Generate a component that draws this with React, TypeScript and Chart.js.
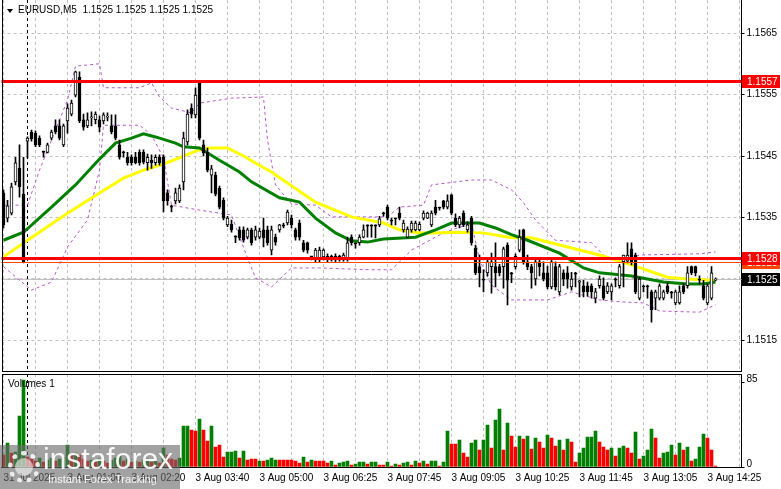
import React, { useEffect, useRef } from "react";
import { Chart, registerables } from "chart.js";

Chart.register(...registerables);

// ---------------- data ----------------
const SLOT_COUNT = 185; // visible bar slots (incl. empty right shift)
const GRID_STEP = 8;
const separatorIndex = 6;

const timeTickIndex = [0, 16, 32, 48, 64, 80, 96, 112, 128, 144, 160, 176];
const timeTickText = [
  "31 Jul 2025", "3 Aug 01:00", "3 Aug 02:20", "3 Aug 03:40", "3 Aug 05:00", "3 Aug 06:25",
  "3 Aug 07:45", "3 Aug 09:05", "3 Aug 10:25", "3 Aug 11:45", "3 Aug 13:05", "3 Aug 14:25",
];

const openPrices = [
  1.15390,1.15349,1.15357,1.15408,1.15430,1.15388,1.15474,1.15489,1.15487,1.15479,
  1.15458,1.15456,1.15479,1.15499,1.15499,1.15468,1.15507,1.15518,1.15549,1.15578,
  1.15509,1.15499,1.15512,1.15509,1.15509,1.15507,1.15513,1.15499,1.15499,1.15468,
  1.15456,1.15448,1.15448,1.15448,1.15456,1.15456,1.15439,1.15443,1.15439,1.15448,
  1.15448,1.15390,1.15369,1.15377,1.15377,1.15408,1.15473,1.15528,1.15517,1.15569,
  1.15468,1.15456,1.15419,1.15419,1.15398,1.15378,1.15338,1.15339,1.15320,1.15330,
  1.15330,1.15318,1.15330,1.15318,1.15318,1.15330,1.15330,1.15297,1.15318,1.15330,
  1.15338,1.15341,1.15349,1.15330,1.15341,1.15309,1.15309,1.15287,1.15281,1.15281,
  1.15286,1.15287,1.15287,1.15287,1.15287,1.15281,1.15281,1.15318,1.15309,1.15309,
  1.15318,1.15338,1.15338,1.15338,1.15338,1.15357,1.15367,1.15346,1.15349,1.15357,
  1.15330,1.15318,1.15330,1.15330,1.15330,1.15349,1.15349,1.15338,1.15367,1.15367,
  1.15377,1.15367,1.15387,1.15349,1.15338,1.15357,1.15330,1.15349,1.15300,1.15270,
  1.15250,1.15260,1.15270,1.15270,1.15270,1.15270,1.15305,1.15260,1.15270,1.15297,
  1.15330,1.15278,1.15270,1.15250,1.15278,1.15260,1.15260,1.15237,1.15270,1.15229,
  1.15260,1.15260,1.15237,1.15260,1.15245,1.15239,1.15239,1.15239,1.15219,1.15239,
  1.15239,1.15229,1.15229,1.15250,1.15239,1.15278,1.15279,1.15299,1.15289,1.15219,
  1.15239,1.15239,1.15229,1.15219,1.15219,1.15219,1.15239,1.15229,1.15211,1.15211,
  1.15239,1.15239,1.15270,1.15270,1.15250,1.15239,1.15211,1.15219,1.15248,
];

const highPrices = [
  1.15395,1.15378,1.15406,1.15448,1.15468,1.15448,1.15481,1.15492,1.15491,1.15483,
  1.15458,1.15471,1.15492,1.15509,1.15509,1.15502,1.15535,1.15541,1.15588,1.15587,
  1.15518,1.15520,1.15522,1.15522,1.15515,1.15520,1.15520,1.15517,1.15517,1.15476,
  1.15458,1.15456,1.15452,1.15456,1.15460,1.15460,1.15453,1.15452,1.15452,1.15452,
  1.15452,1.15395,1.15370,1.15398,1.15403,1.15489,1.15525,1.15535,1.15561,1.15570,
  1.15476,1.15463,1.15435,1.15424,1.15401,1.15382,1.15352,1.15346,1.15320,1.15335,
  1.15335,1.15333,1.15333,1.15336,1.15333,1.15349,1.15336,1.15336,1.15323,1.15339,
  1.15341,1.15362,1.15354,1.15333,1.15346,1.15313,1.15310,1.15287,1.15300,1.15302,
  1.15299,1.15291,1.15289,1.15291,1.15289,1.15292,1.15318,1.15322,1.15309,1.15322,
  1.15338,1.15338,1.15338,1.15338,1.15352,1.15359,1.15370,1.15349,1.15349,1.15367,
  1.15346,1.15335,1.15344,1.15344,1.15343,1.15361,1.15359,1.15361,1.15378,1.15367,
  1.15378,1.15387,1.15388,1.15356,1.15352,1.15361,1.15343,1.15352,1.15305,1.15289,
  1.15265,1.15284,1.15292,1.15309,1.15274,1.15302,1.15309,1.15261,1.15291,1.15330,
  1.15331,1.15289,1.15274,1.15284,1.15281,1.15278,1.15271,1.15281,1.15278,1.15274,
  1.15265,1.15270,1.15261,1.15261,1.15248,1.15248,1.15245,1.15242,1.15235,1.15255,
  1.15252,1.15244,1.15242,1.15252,1.15274,1.15289,1.15309,1.15309,1.15292,1.15253,
  1.15240,1.15240,1.15232,1.15232,1.15242,1.15232,1.15244,1.15230,1.15232,1.15239,
  1.15242,1.15270,1.15271,1.15271,1.15255,1.15248,1.15242,1.15270,1.15252,
];

const lowPrices = [
  1.15333,1.15343,1.15354,1.15403,1.15383,1.15276,1.15447,1.15474,1.15465,1.15465,
  1.15448,1.15455,1.15476,1.15486,1.15476,1.15465,1.15487,1.15515,1.15546,1.15504,
  1.15492,1.15496,1.15499,1.15502,1.15489,1.15502,1.15507,1.15486,1.15476,1.15445,
  1.15448,1.15435,1.15435,1.15437,1.15435,1.15437,1.15427,1.15430,1.15435,1.15435,
  1.15359,1.15370,1.15359,1.15372,1.15374,1.15395,1.15468,1.15512,1.15512,1.15476,
  1.15450,1.15424,1.15390,1.15385,1.15364,1.15346,1.15335,1.15326,1.15309,1.15313,
  1.15310,1.15315,1.15305,1.15313,1.15315,1.15302,1.15305,1.15289,1.15305,1.15326,
  1.15333,1.15338,1.15333,1.15313,1.15313,1.15294,1.15292,1.15281,1.15278,1.15278,
  1.15281,1.15278,1.15279,1.15278,1.15279,1.15279,1.15279,1.15305,1.15300,1.15305,
  1.15317,1.15318,1.15318,1.15317,1.15335,1.15352,1.15346,1.15338,1.15338,1.15346,
  1.15326,1.15317,1.15326,1.15328,1.15328,1.15346,1.15348,1.15335,1.15354,1.15362,
  1.15364,1.15364,1.15354,1.15335,1.15333,1.15335,1.15326,1.15305,1.15257,1.15237,
  1.15229,1.15255,1.15227,1.15237,1.15255,1.15235,1.15208,1.15244,1.15266,1.15294,
  1.15274,1.15265,1.15235,1.15240,1.15255,1.15247,1.15234,1.15234,1.15232,1.15224,
  1.15239,1.15235,1.15232,1.15237,1.15221,1.15221,1.15222,1.15219,1.15211,1.15235,
  1.15216,1.15226,1.15216,1.15237,1.15235,1.15237,1.15276,1.15273,1.15226,1.15216,
  1.15229,1.15219,1.15180,1.15200,1.15216,1.15216,1.15226,1.15219,1.15208,1.15209,
  1.15226,1.15235,1.15257,1.15255,1.15242,1.15216,1.15208,1.15216,1.15247,
];

const closePrices = [
  1.15338,1.15369,1.15400,1.15439,1.15400,1.15278,1.15479,1.15478,1.15468,1.15468,
  1.15456,1.15468,1.15489,1.15489,1.15479,1.15499,1.15528,1.15536,1.15587,1.15507,
  1.15497,1.15509,1.15513,1.15518,1.15497,1.15517,1.15515,1.15489,1.15479,1.15448,
  1.15455,1.15439,1.15439,1.15439,1.15439,1.15440,1.15448,1.15439,1.15448,1.15439,
  1.15377,1.15377,1.15367,1.15390,1.15398,1.15479,1.15518,1.15518,1.15549,1.15479,
  1.15455,1.15427,1.15429,1.15388,1.15367,1.15349,1.15349,1.15330,1.15318,1.15317,
  1.15313,1.15330,1.15309,1.15330,1.15328,1.15317,1.15309,1.15330,1.15310,1.15338,
  1.15336,1.15359,1.15338,1.15318,1.15318,1.15297,1.15297,1.15286,1.15297,1.15297,
  1.15297,1.15281,1.15281,1.15281,1.15281,1.15289,1.15309,1.15309,1.15307,1.15318,
  1.15330,1.15336,1.15336,1.15336,1.15348,1.15356,1.15349,1.15344,1.15348,1.15349,
  1.15341,1.15331,1.15341,1.15341,1.15339,1.15357,1.15357,1.15357,1.15357,1.15365,
  1.15367,1.15377,1.15357,1.15338,1.15349,1.15338,1.15338,1.15309,1.15260,1.15260,
  1.15248,1.15278,1.15278,1.15260,1.15260,1.15299,1.15248,1.15258,1.15287,1.15318,
  1.15278,1.15270,1.15260,1.15278,1.15270,1.15250,1.15237,1.15278,1.15237,1.15270,
  1.15250,1.15250,1.15250,1.15258,1.15247,1.15229,1.15229,1.15229,1.15229,1.15250,
  1.15219,1.15239,1.15239,1.15248,1.15270,1.15289,1.15289,1.15276,1.15229,1.15250,
  1.15237,1.15237,1.15200,1.15229,1.15239,1.15229,1.15229,1.15227,1.15229,1.15229,
  1.15229,1.15260,1.15260,1.15260,1.15248,1.15219,1.15239,1.15260,1.15250,
];

const volumes = [
  12,24,14,15,51,87,10,8,6,9,
  5,7,9,6,8,10,22,12,14,12,
  8,6,7,5,8,6,4,7,9,11,
  6,8,5,6,5,7,8,5,6,4,
  19,12,8,7,9,41,41,37,36,48,
  37,26,41,20,22,10,15,15,16,9,
  16,7,8,8,6,6,7,9,7,7,
  7,7,7,6,4,10,5,7,6,6,
  6,4,6,2,4,5,6,2,3,5,
  5,3,5,5,2,2,5,1,3,2,
  4,5,2,6,4,6,3,6,6,1,
  5,36,23,23,27,14,10,24,27,17,
  27,42,19,47,58,17,44,31,20,31,
  28,31,18,29,25,19,32,29,21,27,
  17,28,25,5,14,19,30,30,36,25,
  20,17,19,11,19,21,19,14,35,8,
  11,17,38,29,9,14,15,22,12,24,
  17,20,6,8,20,33,29,17,1,
];

// g = volume up (green), r = volume down (red)
const volumeDirection =
  "rgrgggrrrg" + "rggrgggrgr" + "rrgrgrrggg" + "rgrgrggrgr" + "grrrgggrrg" +
  "rrgrrrgggr" + "grrrgrgggr" + "rrrrrgrgrr" + "rrgrgggrgg" + "grggrrgrgr" +
  "ggrgrgrggr" + "ggrrgrrggr" + "ggrggrgrrg" + "rgrgrrgrrg" + "rgrrgggggr" +
  "rrgrggrrgr" + "gggrrgggrg" + "rgrgggrrr";

// moving averages and bands, read at sample bars: [barIndex, price]
const maGreenPts: [number, number][] = [
  [0,1.15313],[5,1.15326],[12,1.15367],[18,1.15403],[24,1.15445],[28,1.15471],[32,1.15479],
  [35,1.15486],[38,1.15481],[43,1.15471],[45,1.15465],[49,1.15463],[54,1.15443],[59,1.15424],
  [62,1.15408],[69,1.15382],[74,1.15375],[78,1.15349],[83,1.15325],[87,1.15312],[91,1.15310],
  [95,1.15315],[103,1.15318],[108,1.15330],[112,1.15341],[119,1.15341],[123,1.15333],
  [127,1.15322],[131,1.15313],[139,1.15292],[145,1.15268],[149,1.15260],[157,1.15255],
  [165,1.15245],[171,1.15242],[175,1.15242],[178,1.15245],
];
const maYellowPts: [number, number][] = [
  [0,1.15286],[6,1.15313],[16,1.15357],[24,1.15390],[30,1.15414],[35,1.15427],[40,1.15437],
  [44,1.15447],[48,1.15458],[51,1.15463],[56,1.15463],[60,1.15450],[64,1.15435],[67,1.15424],
  [78,1.15375],[87,1.15351],[95,1.15341],[99,1.15330],[104,1.15325],[108,1.15325],[113,1.15326],
  [120,1.15325],[127,1.15317],[132,1.15317],[141,1.15302],[149,1.15289],[157,1.15273],
  [166,1.15253],[171,1.15250],[178,1.15248],
];
const bandUpperPts: [number, number][] = [
  [0,1.15370],[6,1.15370],[9,1.15427],[13,1.15492],[16,1.15541],[18,1.15596],[24,1.15600],
  [25,1.15561],[34,1.15561],[37,1.15569],[39,1.15546],[42,1.15528],[47,1.15520],[49,1.15536],
  [57,1.15544],[65,1.15546],[66,1.15476],[68,1.15403],[72,1.15372],[78,1.15370],[82,1.15351],
  [96,1.15351],[99,1.15367],[105,1.15370],[107,1.15403],[117,1.15411],[122,1.15411],
  [127,1.15395],[130,1.15374],[133,1.15346],[138,1.15313],[147,1.15309],[150,1.15289],
  [154,1.15278],[159,1.15289],[174,1.15291],[178,1.15294],
];
const bandLowerPts: [number, number][] = [
  [0,1.15270],[7,1.15232],[12,1.15245],[16,1.15302],[21,1.15346],[24,1.15427],[25,1.15500],
  [34,1.15500],[37,1.15484],[40,1.15447],[42,1.15370],[49,1.15362],[57,1.15354],[61,1.15284],
  [63,1.15252],[67,1.15237],[72,1.15268],[79,1.15268],[92,1.15265],[97,1.15265],[102,1.15297],
  [110,1.15325],[117,1.15341],[119,1.15281],[122,1.15240],[127,1.15216],[136,1.15216],
  [142,1.15229],[149,1.15216],[154,1.15213],[160,1.15211],[164,1.15198],[174,1.15196],
  [178,1.15208],
];

const resistanceLevel = 1.15572;
const supportLevel = 1.15284;
const supportLevel2 = 1.15278;
const bidPrice = 1.1525;

const priceTicks = [1.1515, 1.1525, 1.1535, 1.1545, 1.1555, 1.1565];
const priceMin = 1.1509878;
const priceMax = 1.1570366;
const volumeTicks = [0, 85];
const volumeMax = 93;

// ---------------- helpers ----------------
const FONT_FAMILY = "'Liberation Sans', Arial, sans-serif";
const FONT = { family: FONT_FAMILY, size: 10 };
const GRID_COLOR = "#c0c0c0";
const BAND_COLOR = "#ba55d3";

const slotLabels = Array.from({ length: SLOT_COUNT }, (_, i) => String(i));

function toSeries(points: [number, number][]) {
  const arr: (number | null)[] = new Array(SLOT_COUNT).fill(null);
  points.forEach(([i, v]) => {
    arr[i] = v;
  });
  return arr;
}

function setGridTicks(scale: any) {
  const t: any[] = [];
  for (let v = 0; v < SLOT_COUNT; v += GRID_STEP) t.push({ value: v });
  scale.ticks = t;
}

function zeroPad(scale: any) {
  scale.paddingLeft = 0;
  scale.paddingRight = 0;
  scale.paddingTop = 0;
  scale.paddingBottom = 0;
}

function drawSeparator(chart: any) {
  const { ctx, chartArea: a } = chart;
  const x = chart.scales.x;
  const xs = Math.floor(x.getPixelForValue(separatorIndex)) + 0.5;
  ctx.save();
  ctx.strokeStyle = "#000";
  ctx.lineWidth = 1;
  ctx.setLineDash([3, 3]);
  ctx.beginPath();
  ctx.moveTo(xs, a.top);
  ctx.lineTo(xs, a.bottom);
  ctx.stroke();
  ctx.restore();
}

const pricePlugin = {
  id: "priceOverlay",
  beforeDatasetsDraw(chart: any) {
    const { ctx, chartArea: a } = chart;
    const y = chart.scales.y;
    ctx.save();
    ctx.strokeStyle = "#c0c0c0";
    ctx.lineWidth = 1;
    const yb = Math.round(y.getPixelForValue(bidPrice)) + 0.5;
    ctx.beginPath();
    ctx.moveTo(a.left, yb);
    ctx.lineTo(a.right, yb);
    ctx.stroke();
    ctx.restore();
    drawSeparator(chart);
  },
  afterDatasetsDraw(chart: any) {
    const { ctx, chartArea: a } = chart;
    const y = chart.scales.y;
    ctx.save();
    const level = (v: number, color: string, w: number) => {
      const py = w % 2 === 1 ? Math.round(y.getPixelForValue(v)) + 0.5 : Math.round(y.getPixelForValue(v));
      ctx.strokeStyle = color;
      ctx.lineWidth = w;
      ctx.beginPath();
      ctx.moveTo(a.left, py);
      ctx.lineTo(a.right, py);
      ctx.stroke();
    };
    level(supportLevel2, "#ff4500", 1);
    level(supportLevel, "#ff0000", 3);
    level(resistanceLevel, "#ff0000", 3);

    // frame
    ctx.strokeStyle = "#000";
    ctx.lineWidth = 1;
    ctx.beginPath();
    ctx.moveTo(2.5, a.top);
    ctx.lineTo(2.5, a.bottom);
    ctx.moveTo(2, a.bottom - 0.5);
    ctx.lineTo(a.right, a.bottom - 0.5);
    ctx.stroke();

    // price boxes on the axis
    const box = (v: number, bg: string, fg: string) => {
      const py = Math.round(y.getPixelForValue(v));
      ctx.fillStyle = bg;
      ctx.fillRect(Math.round(a.right), py - 6, 38, 13);
      ctx.fillStyle = fg;
      ctx.font = "10px " + FONT_FAMILY;
      ctx.textBaseline = "middle";
      ctx.textAlign = "left";
      ctx.fillText(v.toFixed(4), Math.round(a.right) + 5, py + 1);
    };
    box(supportLevel2, "#ff4500", "#ffffff");
    box(supportLevel, "#ff0000", "#ffffff");
    box(resistanceLevel, "#ff0000", "#ffffff");
    box(bidPrice, "#000000", "#ffffff");
    ctx.restore();
  },
};

const volumePlugin = {
  id: "volumeOverlay",
  beforeDatasetsDraw(chart: any) {
    drawSeparator(chart);
  },
  afterDatasetsDraw(chart: any) {
    const { ctx, chartArea: a } = chart;
    ctx.save();
    ctx.strokeStyle = "#000";
    ctx.lineWidth = 1;
    ctx.beginPath();
    ctx.moveTo(2.5, a.top);
    ctx.lineTo(2.5, a.bottom);
    ctx.moveTo(2, a.top + 0.5);
    ctx.lineTo(a.right, a.top + 0.5);
    ctx.stroke();
    ctx.restore();
  },
};

export default function App() {
  const priceRef = useRef<HTMLCanvasElement>(null);
  const volRef = useRef<HTMLCanvasElement>(null);

  useEffect(() => {
    const wickData = lowPrices.map((l, i) => [l, highPrices[i]]);
    const bodyData = openPrices.map((o, i) => [Math.min(o, closePrices[i]), Math.max(o, closePrices[i])]);
    const bodyColors = openPrices.map((o, i) => (closePrices[i] > o ? "#ffffff" : "#000000"));
    const volColors = volumes.map((_, i) => (volumeDirection[i] === "g" ? "#008000" : "#ff0000"));

    const priceChart = new Chart(priceRef.current as HTMLCanvasElement, {
      type: "bar",
      data: {
        labels: slotLabels,
        datasets: [
          { type: "line", data: toSeries(bandUpperPts), borderColor: BAND_COLOR, borderWidth: 1, borderDash: [3, 3], pointRadius: 0, spanGaps: true, order: 10 } as any,
          { type: "line", data: toSeries(bandLowerPts), borderColor: BAND_COLOR, borderWidth: 1, borderDash: [3, 3], pointRadius: 0, spanGaps: true, order: 10 } as any,
          { type: "line", data: toSeries(maYellowPts), borderColor: "#ffff00", borderWidth: 3, pointRadius: 0, spanGaps: true, order: 9 } as any,
          { type: "line", data: toSeries(maGreenPts), borderColor: "#008000", borderWidth: 3, pointRadius: 0, spanGaps: true, order: 8 } as any,
          { type: "bar", data: wickData, backgroundColor: "#000000", barThickness: 1, grouped: false, order: 2 } as any,
          {
            type: "bar", data: bodyData, backgroundColor: bodyColors, borderColor: "#000000", borderWidth: 1,
            borderSkipped: false, barThickness: 3, minBarLength: 1, grouped: false, order: 1,
          } as any,
        ],
      },
      options: {
        animation: false,
        responsive: false,
        devicePixelRatio: 1,
        events: [],
        layout: { autoPadding: false, padding: { left: 1.5, right: 0, top: 0, bottom: 0 } },
        plugins: { legend: { display: false }, tooltip: { enabled: false } },
        scales: {
          x: {
            type: "category",
            offset: true,
            grid: { offset: false, color: GRID_COLOR, drawTicks: false, lineWidth: 1 },
            border: { display: false, dash: [3, 3] },
            ticks: { display: false },
            afterBuildTicks: setGridTicks,
            afterFit: (s: any) => { s.height = 0; zeroPad(s); },
          },
          y: {
            type: "linear",
            position: "right",
            min: priceMin,
            max: priceMax,
            afterBuildTicks: (s: any) => { s.ticks = priceTicks.map((v) => ({ value: v })); },
            ticks: { callback: (v: any) => Number(v).toFixed(4), font: FONT, color: "#000", padding: 2 },
            grid: { color: GRID_COLOR, tickColor: "#000", tickLength: 3 },
            border: { display: true, color: "#000", dash: [3, 3] },
            afterFit: (s: any) => { s.width = 39.5; zeroPad(s); },
          },
        },
      } as any,
      plugins: [pricePlugin],
    });

    const volumeChart = new Chart(volRef.current as HTMLCanvasElement, {
      type: "bar",
      data: {
        labels: slotLabels,
        datasets: [
          { type: "bar", data: volumes, backgroundColor: volColors, barThickness: 3, order: 1 } as any,
        ],
      },
      options: {
        animation: false,
        responsive: false,
        devicePixelRatio: 1,
        events: [],
        layout: { autoPadding: false, padding: { left: 1.5, right: 0, top: 2, bottom: 0 } },
        plugins: { legend: { display: false }, tooltip: { enabled: false } },
        scales: {
          x: {
            type: "category",
            offset: true,
            grid: { offset: false, color: GRID_COLOR, tickColor: "rgba(0,0,0,0)", tickLength: 3, lineWidth: 1 },
            border: { display: true, color: "#000", dash: [3, 3] },
            ticks: {
              autoSkip: false,
              maxRotation: 0,
              minRotation: 0,
              align: "start",
              padding: 2,
              font: FONT,
              color: "#000",
              callback: (v: any) => {
                const k = timeTickIndex.indexOf(Number(v));
                return k >= 0 ? timeTickText[k] : "";
              },
            },
            afterBuildTicks: setGridTicks,
            afterFit: (s: any) => { s.height = 22; zeroPad(s); },
          },
          y: {
            type: "linear",
            position: "right",
            min: 0,
            max: volumeMax,
            afterBuildTicks: (s: any) => { s.ticks = volumeTicks.map((v) => ({ value: v })); },
            ticks: { callback: (v: any) => String(v), font: FONT, color: "#000", padding: 2, labelOffset: -3 },
            grid: { drawOnChartArea: false, tickColor: "#000", tickLength: 3 },
            border: { display: true, color: "#000" },
            afterFit: (s: any) => { s.width = 39.5; zeroPad(s); },
          },
        },
      } as any,
      plugins: [volumePlugin],
    });

    return () => {
      priceChart.destroy();
      volumeChart.destroy();
    };
  }, []);

  const last = closePrices.length - 1;
  const title =
    "EURUSD,M5  " +
    [openPrices[last], highPrices[last], lowPrices[last], closePrices[last]].map((v) => v.toFixed(4)).join(" ");

  return (
    <div
      style={{
        position: "absolute", left: 0, top: 0, width: 781, height: 489, background: "#ffffff",
        overflow: "hidden", fontFamily: FONT_FAMILY,
      }}
    >
      <canvas ref={priceRef} width={781} height={372} style={{ position: "absolute", left: 0, top: 0, width: 781, height: 372 }} />
      <canvas ref={volRef} width={781} height={117} style={{ position: "absolute", left: 0, top: 372, width: 781, height: 117 }} />

      {/* symbol header */}
      <div
        style={{
          position: "absolute", left: 7, top: 9, width: 0, height: 0,
          borderLeft: "3px solid transparent", borderRight: "3px solid transparent", borderTop: "4px solid #000",
        }}
      />
      <div style={{ position: "absolute", left: 18, top: 4, fontSize: 10, lineHeight: "12px", color: "#000", whiteSpace: "pre" }}>
        {title}
      </div>
      <div style={{ position: "absolute", left: 8, top: 378, fontSize: 10, lineHeight: "12px", color: "#000", whiteSpace: "pre" }}>
        Volumes 1
      </div>

      {/* watermark */}
      <div
        style={{
          position: "absolute", left: 0, top: 445, width: 180, height: 44, background: "rgba(105,105,105,0.62)",
        }}
      >
        <div
          style={{
            position: "absolute", left: 8, top: 6, width: 22, height: 22, borderRadius: "50%",
            border: "5px dotted rgba(255,255,255,0.85)",
          }}
        />
        <div
          style={{
            position: "absolute", left: 15, top: 13, width: 18, height: 18, borderRadius: "50%",
            background: "rgba(255,255,255,0.55)",
          }}
        />
        <div
          style={{
            position: "absolute", left: 43, top: -3, fontSize: 30, lineHeight: "34px",
            color: "rgba(255,255,255,0.92)", whiteSpace: "pre",
          }}
        >
          instaforex
        </div>
        <div
          style={{
            position: "absolute", left: 48, top: 28, fontSize: 11, lineHeight: "13px",
            color: "rgba(255,255,255,0.9)", whiteSpace: "pre",
          }}
        >
          Instant Forex Tracking
        </div>
      </div>
    </div>
  );
}
